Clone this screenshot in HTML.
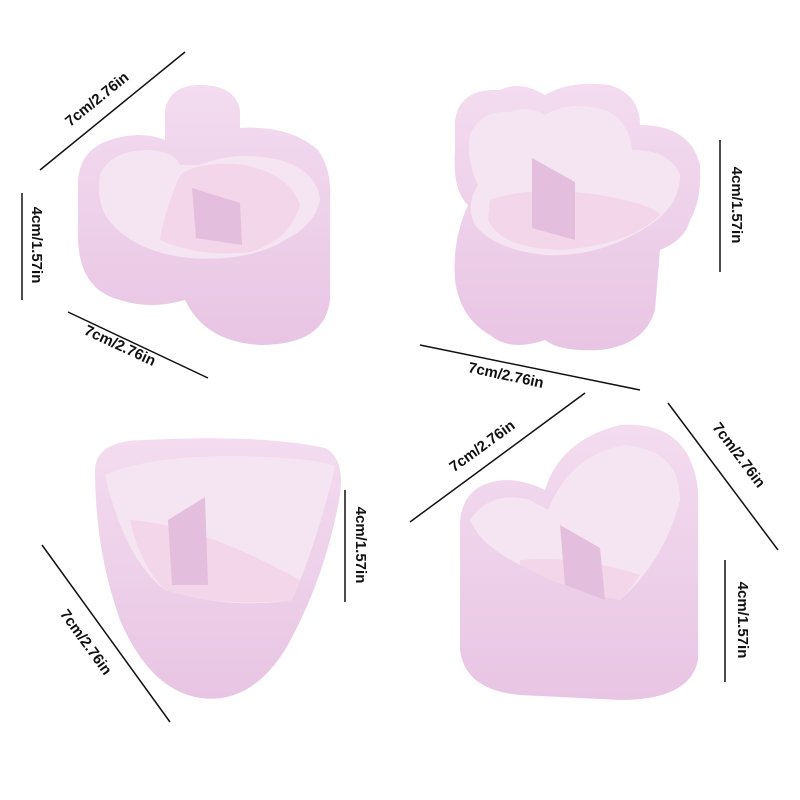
<!DOCTYPE html>
<html><head><meta charset="utf-8"><style>
html,body{margin:0;padding:0;background:#fff;}
svg{display:block}
text{font-family:"Liberation Sans",sans-serif;font-weight:bold;font-size:15px;fill:#111}
</style></head><body>
<svg width="800" height="800" viewBox="0 0 800 800">
<defs>
<linearGradient id="g" x1="0" y1="0" x2="0" y2="1">
<stop offset="0" stop-color="#f3dcf0"/><stop offset="1" stop-color="#e8c5e3"/></linearGradient>
</defs>
<!-- bear -->
<g>
<path d="M165,110 Q170,85 200,85 Q235,85 240,110 L240,128 Q290,125 318,150 Q332,170 330,200 L330,300 Q325,345 260,345 Q205,342 185,300 Q150,310 120,300 Q80,290 78,240 L78,185 Q78,150 110,140 Q140,130 165,140 Z" fill="url(#g)"/>
<path d="M100,175 Q110,150 150,150 Q175,152 180,165 L200,165 Q235,150 280,160 Q318,172 320,200 Q315,225 285,240 Q250,262 190,258 Q130,252 105,215 Q96,195 100,175 Z" fill="#f5e5f2"/>
<path d="M180,175 Q200,160 245,165 Q290,175 300,205 Q290,240 250,252 Q200,258 160,240 Q165,210 180,175 Z" fill="#f3d6e9"/>
<path d="M192,188 L240,203 L242,245 L196,238 Z" fill="#e3bedd"/>
</g>
<!-- flower -->
<g>
<path d="M455,120 Q460,88 500,90 Q520,80 545,95 Q570,80 610,85 Q640,95 640,125 Q690,125 700,165 Q702,200 690,220 Q685,240 660,250 L655,310 Q645,345 600,350 Q560,352 545,340 Q510,352 490,335 Q460,318 455,280 Q452,240 468,205 Q452,190 455,150 Z" fill="url(#g)"/>
<path d="M470,135 Q480,110 510,112 Q530,105 545,115 Q570,100 605,110 Q630,122 632,150 Q670,150 680,175 Q680,205 650,225 Q600,258 545,255 Q495,250 475,225 Q465,205 478,185 Q466,160 470,135 Z" fill="#f5e5f2"/>
<path d="M490,200 Q530,185 600,195 Q655,205 660,215 Q630,245 560,250 Q500,248 488,220 Z" fill="#f3d6e9"/>
<path d="M532,158 L575,182 L575,240 L532,228 Z" fill="#e3bedd"/>
</g>
<!-- triangle -->
<g>
<path d="M95,470 Q96,440 145,440 Q260,434 325,448 Q345,458 340,495 Q325,580 285,650 Q250,705 200,698 Q150,690 120,620 Q95,550 95,470 Z" fill="url(#g)"/>
<path d="M105,475 Q150,455 240,456 Q315,458 335,466 Q318,540 292,600 Q230,610 165,590 Q125,560 105,475 Z" fill="#f5e5f2"/>
<path d="M130,520 Q200,525 300,580 L292,600 Q220,608 165,590 Q140,565 130,520 Z" fill="#f3d6e9"/>
<path d="M168,520 L205,497 L208,585 L172,585 Z" fill="#e3bedd"/>
</g>
<!-- heart -->
<g>
<path d="M460,520 Q465,480 510,480 Q530,482 545,490 Q560,440 620,425 Q690,420 698,490 L698,660 Q690,700 620,700 L520,695 Q465,690 460,650 Z" fill="url(#g)"/>
<path d="M470,520 Q490,490 530,500 L548,510 Q570,455 625,445 Q680,450 680,500 Q665,560 620,600 Q570,590 520,565 Q480,545 470,520 Z" fill="#f5e5f2"/>
<path d="M520,560 Q580,555 640,575 Q630,590 620,600 Q570,592 520,565 Z" fill="#f3d6e9"/>
<path d="M560,525 L600,548 L605,600 L565,585 Z" fill="#e3bedd"/>
</g>
<!-- lines -->
<g stroke="#111" stroke-width="1.5">
<line x1="40" y1="170" x2="185" y2="52"/>
<line x1="22" y1="193" x2="22" y2="300"/>
<line x1="68" y1="312" x2="208" y2="378"/>
<line x1="720" y1="140" x2="720" y2="272"/>
<line x1="420" y1="345" x2="640" y2="390"/>
<line x1="345" y1="490" x2="345" y2="602"/>
<line x1="42" y1="545" x2="170" y2="722"/>
<line x1="410" y1="522" x2="585" y2="393"/>
<line x1="668" y1="403" x2="778" y2="550"/>
<line x1="725" y1="560" x2="725" y2="682"/>
</g>
<!-- labels -->
<text transform="translate(100,103) rotate(-39)" text-anchor="middle">7cm/2.76in</text>
<text transform="translate(32,245) rotate(90)" text-anchor="middle">4cm/1.57in</text>
<text transform="translate(118,350) rotate(25)" text-anchor="middle">7cm/2.76in</text>
<text transform="translate(732,205) rotate(90)" text-anchor="middle">4cm/1.57in</text>
<text transform="translate(505,380) rotate(12)" text-anchor="middle">7cm/2.76in</text>
<text transform="translate(356,545) rotate(90)" text-anchor="middle">4cm/1.57in</text>
<text transform="translate(82,645) rotate(54)" text-anchor="middle">7cm/2.76in</text>
<text transform="translate(485,450) rotate(-36)" text-anchor="middle">7cm/2.76in</text>
<text transform="translate(735,458) rotate(53)" text-anchor="middle">7cm/2.76in</text>
<text transform="translate(738,620) rotate(90)" text-anchor="middle">4cm/1.57in</text>
</svg>
</body></html>
